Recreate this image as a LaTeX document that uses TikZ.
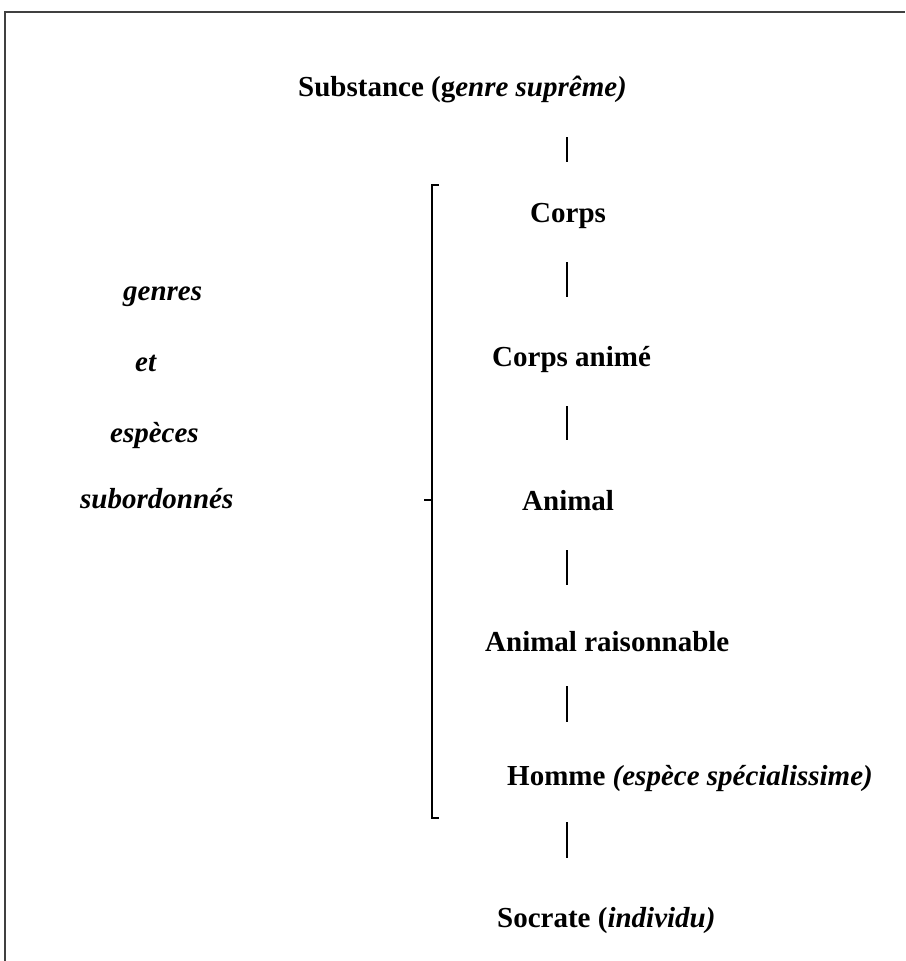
\documentclass[tikz,border=0pt]{standalone}
\usepackage{fontspec}
\setmainfont{Liberation Serif}
\begin{document}
\begin{tikzpicture}[x=1pt,y=-1pt,
  lbl/.style={anchor=base west, inner sep=0pt, font=\fontsize{29}{35}\selectfont\bfseries},
  side/.style={anchor=base west, inner sep=0pt, font=\fontsize{29}{35}\selectfont\bfseries\itshape},
  bar/.style={line width=2.6pt},
  brk/.style={line width=1.8pt},
  frame/.style={line width=1.6pt, draw=black!75}]
\useasboundingbox (0,0) rectangle (905,961);
\draw[frame] (5,961) -- (5,12) -- (905,12);
% hierarchy
\node[lbl] (sub) at (298,96) {Substance (g\textit{enre suprême)}};
\node[lbl] (corps) at (530,222) {Corps};
\node[lbl] (anime) at (492,366) {Corps animé};
\node[lbl] (animal) at (522,510) {Animal};
\node[lbl] (rais) at (485,651) {Animal raisonnable};
\node[lbl] (homme) at (507,785) {Homme \textit{(espèce spécialissime)}};
\node[lbl] (soc) at (497,927) {Socrate (\textit{individu)}};
% connectors
\coordinate (b1t) at (567,137); \coordinate (b1b) at (567,162);
\coordinate (b2t) at (567,262); \coordinate (b2b) at (567,297);
\coordinate (b3t) at (567,406); \coordinate (b3b) at (567,440);
\coordinate (b4t) at (567,550); \coordinate (b4b) at (567,585);
\coordinate (b5t) at (567,686); \coordinate (b5b) at (567,722);
\coordinate (b6t) at (567,822); \coordinate (b6b) at (567,858);
\draw[bar] (b1t) -- (b1b);
\draw[bar] (b2t) -- (b2b);
\draw[bar] (b3t) -- (b3b);
\draw[bar] (b4t) -- (b4b);
\draw[bar] (b5t) -- (b5b);
\draw[bar] (b6t) -- (b6b);
% bracket
\coordinate (kt) at (439,185); \coordinate (kb) at (439,818);
\coordinate (km) at (432,500); \coordinate (kx) at (424,500);
\draw[brk] (kt) -- (432,185) -- (432,818) -- (kb);
\draw[brk] (kx) -- (km);
% side labels
\node[side] (genres) at (123,300) {genres};
\node[side] (et) at (135,371) {et};
\node[side] (esp) at (110,442) {espèces};
\node[side] (subo) at (80,508) {subordonnés};
\end{tikzpicture}
\end{document}
